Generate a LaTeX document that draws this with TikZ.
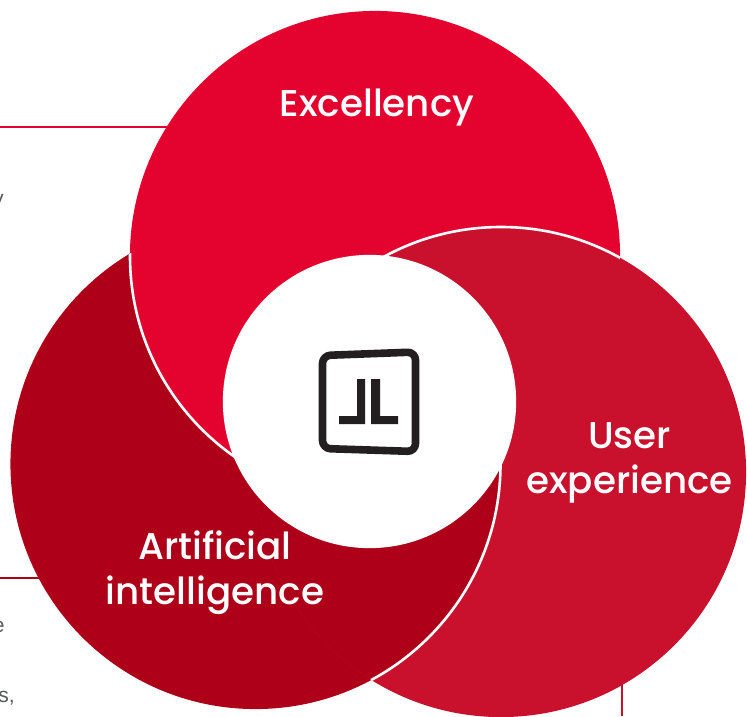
\documentclass[tikz,border=0pt]{standalone}
\usepackage{fontspec}
\setmainfont{Poppins}
\newfontfamily\lblfont{Poppins Medium}
\newfontfamily\marginfont{Liberation Sans}
\usepackage{xcolor}
\usetikzlibrary{positioning}
\definecolor{redtop}{HTML}{E4022E}
\definecolor{redleft}{HTML}{AE0019}
\definecolor{redright}{HTML}{C9102C}
\definecolor{logoink}{HTML}{231F20}
\definecolor{margingray}{HTML}{58595B}

\begin{document}
\begin{tikzpicture}[
    x=0.025cm, y=-0.025cm,
    petal/.style={circle, inner sep=0pt, minimum size=12.25cm},
    seam/.style={draw=white, line width=0.065cm},
    lbl/.style={text=white, font=\lblfont\fontsize{26.5}{32}\selectfont, align=center},
    rulel/.style={line width=0.035cm},
    cut/.style={text=margingray, font=\marginfont\fontsize{15}{18}\selectfont, inner sep=0pt},
    logoline/.style={draw=logoink, line width=0.19cm, rounded corners=0.2cm, line join=round},
    logobar/.style={fill=logoink},
  ]
  \useasboundingbox (0,0) rectangle (747,716);

  % rules behind the circles
  \coordinate (ruletop) at (0,127);
  \coordinate (ruletopend) at (200,127);
  \coordinate (ruleleft) at (0,578);
  \coordinate (ruleleftend) at (60,578);
  \coordinate (ruleright) at (622,716);
  \coordinate (rulerightend) at (622,660);
  \draw[rulel, draw=redtop] (ruletop) -- (ruletopend);
  \draw[rulel, draw=redleft] (ruleleft) -- (ruleleftend);
  \draw[rulel, draw=redright] (ruleright) -- (rulerightend);

  % cut off text at the margin
  \node[cut, anchor=east] (cuta) at (4,202) {y};
  \node[cut, anchor=east] (cutb) at (5,627) {e};
  \node[cut, anchor=east] (cutc) at (15,698) {s,};

  % circles, each one lies over the next
  \node[petal, fill=redleft] (artc) at (255.5,464) {};
  \node[petal, fill=redtop] (excc) at (375,256) {};
  \begin{scope}
    \clip (255.5,464) circle (245);
    \draw[seam] (375,256) circle (245);
  \end{scope}
  \node[petal, fill=redright] (userc) at (501,472) {};
  \begin{scope}
    \clip (375,256) circle (245);
    \draw[seam] (501,472) circle (245);
  \end{scope}
  \begin{scope}
    \clip (501,472) circle (245);
    \fill[redleft] (255.5,464) circle (245);
    \draw[seam] (255.5,464) circle (245);
  \end{scope}
  \node[circle, fill=white, inner sep=0pt, minimum size=7.33cm] (hub) at (369.5,401.5) {};

  % labels
  \node[lbl] (exclbl) at (377,108) {Excellency};
  \node[lbl] (userlbl) at (629.5,463) {User\\experience};
  \node[lbl] (artlbl) at (215,572.5) {Artificial\\intelligence};

  % logo
  \draw[logoline] (322.5,355.5) -- (415.5,352) -- (415.5,451.5) -- (322.5,448.5) -- cycle;
  \fill[logobar] (357,379) -- (365,379) -- (365,424) -- (339,424) -- (339,416) -- (357,416) -- cycle;
  \fill[logobar] (371,379) -- (380,379) -- (380,416) -- (398,416) -- (398,424) -- (371,424) -- cycle;
\end{tikzpicture}
\end{document}
